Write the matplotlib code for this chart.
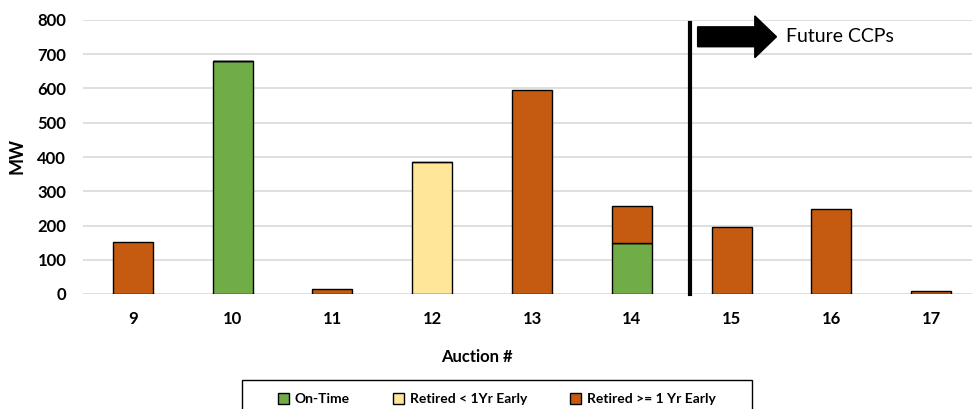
import matplotlib.pyplot as plt
import numpy as np
from matplotlib.patches import FancyArrow, Patch, Rectangle

# Données
auctions = ['9', '10', '11', '12', '13', '14', '15', '16', '17']
on_time = [0, 680, 0, 0, 0, 148, 0, 0, 0]
retired_lt1 = [0, 0, 0, 386, 0, 0, 0, 0, 0]
retired_ge1 = [152, 0, 15, 0, 595, 110, 196, 248, 8]

c_green = '#70AD47'
c_yellow = '#FFE699'
c_orange = '#C55A11'

plt.rcParams['font.family'] = ['Lato', 'DejaVu Sans']

fig = plt.figure(figsize=(9.72, 4.09), dpi=100)
ax = fig.add_axes([83/972, 1 - 294/409, 898/972, 274/409])

x = np.arange(len(auctions))
on_time = np.array(on_time)
retired_lt1 = np.array(retired_lt1)
retired_ge1 = np.array(retired_ge1)

ax.bar(x, on_time, 0.4, color=c_green, edgecolor='black', linewidth=1, zorder=3)
ax.bar(x, retired_lt1, 0.4, bottom=on_time, color=c_yellow, edgecolor='black', linewidth=1, zorder=3)
ax.bar(x, retired_ge1, 0.4, bottom=on_time + retired_lt1, color=c_orange, edgecolor='black', linewidth=1, zorder=3)

ax.set_xlim(-0.5, len(auctions) - 0.5)
ax.set_ylim(0, 800)
ax.set_yticks(range(0, 801, 100))
ax.set_xticks(x)
ax.set_xticklabels(auctions, fontsize=12, fontweight='bold')
for lab in ax.get_yticklabels():
    lab.set_fontsize(12)
    lab.set_fontweight('bold')
ax.tick_params(length=0, pad=12)
ax.grid(axis='y', color='#d9d9d9', linewidth=1.2, zorder=0)
for s in ax.spines.values():
    s.set_visible(False)

ax.set_ylabel('MW', fontsize=13, fontweight='bold')
ax.yaxis.set_label_coords(-0.064, 0.505)

# séparation entre enchères passées et futures
ax.plot([5.58, 5.58], [0, 792], color='black', linewidth=3, zorder=4, clip_on=False)
ax.add_patch(FancyArrow(5.66, 751, 0.79, 0, width=58, head_width=122, head_length=0.217,
                        length_includes_head=True, color='black', clip_on=False, zorder=4))
ax.text(6.55, 751, 'Future CCPs', fontsize=14, va='center', ha='left')

fig.text(477/972, 1 - 357/409, 'Auction #', fontsize=12, fontweight='bold', ha='center', va='center')

# cadre de la légende (coupé en bas comme l'original)
fig.patches.append(Rectangle((242/972, -0.05), 510/972, 1 - 380/409 + 0.05,
                             transform=fig.transFigure, facecolor='white',
                             edgecolor='black', linewidth=1))

handles = [Patch(facecolor=c_green, edgecolor='black', label='On-Time'),
           Patch(facecolor=c_yellow, edgecolor='black', label='Retired < 1Yr Early'),
           Patch(facecolor=c_orange, edgecolor='black', label='Retired >= 1 Yr Early')]
leg = fig.legend(handles=handles, loc='center', bbox_to_anchor=(497/972, 1 - 399/409),
                 ncol=3, frameon=False,
                 handlelength=0.8, handleheight=0.8, handletextpad=0.4, columnspacing=3.1,
                 borderpad=0, borderaxespad=0,
                 prop={'weight': 'bold', 'size': 10, 'family': ['Lato', 'DejaVu Sans']})

fig.savefig('out.png', dpi=100)
